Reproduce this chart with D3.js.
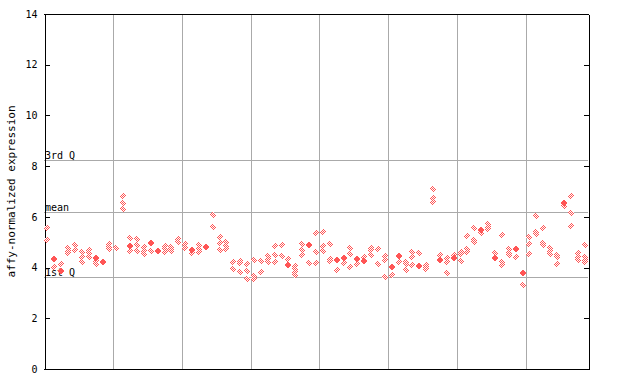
<!DOCTYPE html>
<html>
<head>
<meta charset="utf-8">
<script src="https://cdn.jsdelivr.net/npm/d3@7"></script>
<style>
body { margin: 0; background: #fff; }
text { font-family: "DejaVu Sans Mono", monospace; font-size: 10px; fill: #000; }
</style>
</head>
<body>
<div id="chart"></div>
<script>
// replicate values per sample (hollow markers)
var hollowValues = [
  [5.55, 5.07], [4.01], [4.14], [4.76, 4.65, 4.56], [4.88, 4.68],
  [4.6, 4.42, 4.23], [4.68, 4.56, 4.4], [4.25, 4.14], [], [4.92, 4.8, 4.72],
  [4.76], [6.82, 6.55, 6.3], [5.15, 4.64], [5.11, 4.88, 4.64], [4.8, 4.64, 4.52],
  [4.64], [], [4.84, 4.72, 4.6], [4.8, 4.72, 4.64], [5.11, 5.0],
  [4.92, 4.76], [4.56], [4.88, 4.72, 4.6], [4.8], [6.06, 5.59],
  [5.19, 4.96, 4.68], [5.0, 4.84, 4.72], [4.23, 3.93], [4.25, 4.17, 3.81], [4.13, 3.85, 3.54],
  [4.29, 3.66, 3.54], [4.25, 3.81], [4.44, 4.33, 4.21], [4.84, 4.48, 4.21], [4.88, 4.44],
  [4.33], [4.05, 3.93, 3.81, 3.69], [4.92, 4.68, 4.48], [4.17], [5.35, 4.6, 4.17],
  [5.39, 4.84, 4.64], [4.92, 4.33, 4.25], [3.89], [4.17], [4.76, 4.52, 4.01],
  [4.13], [4.4], [4.76, 4.68, 4.48], [4.72, 4.13], [4.44, 4.29, 3.62],
  [3.69], [4.21], [4.21, 4.13, 3.89], [4.6, 4.4, 4.09], [4.56],
  [4.12, 4.02, 3.93], [7.09, 6.73, 6.57], [4.48], [4.39, 4.23, 3.77], [4.48],
  [4.63, 4.53, 4.25], [5.23, 4.72, 4.63], [5.55, 5.09, 5.0], [5.35], [5.72, 5.61, 5.51],
  [4.56], [5.27, 4.23, 4.11], [4.72, 4.56, 4.48], [4.4], [3.3],
  [5.19, 4.92, 4.52], [6.02, 5.39, 5.31], [5.55, 4.96, 4.88], [4.76, 4.64, 4.52], [4.48, 4.4, 4.13],
  [6.43], [6.81, 6.14, 5.63], [4.56, 4.4, 4.29], [4.88, 4.4, 4.29, 4.21]
];
// overlapping replicates drawn as a solid marker (null = none)
var solidValues = [
  null, 4.33, 3.88, null, null, null, null, 4.36, 4.21, null,
  null, null, 4.84, null, null, 4.96, 4.64, null, null, null,
  null, 4.68, null, 4.8, null, null, null, null, null, null,
  null, null, null, null, null, 4.09, null, null, 4.88, null,
  null, null, 4.29, 4.36, null, 4.33, 4.25, null, null, null,
  4.01, 4.44, null, null, 4.05, null, null, 4.31, null, 4.39,
  null, null, null, 5.48, null, 4.39, null, null, 4.74, 3.8,
  null, null, null, null, null, 6.53, null, null, null
];
var yTicks = [0, 2, 4, 6, 8, 10, 12, 14];
var refLabels = ["3rd Q", "mean", "1st Q"];
var refValues = [8.24, 6.2, 3.62];
var groupSize = 10;

var W = 640, H = 384;
var margin = {top: 14, right: 52, bottom: 15, left: 44};
var red = "#ff5555";

var svg = d3.select("#chart").append("svg")
  .attr("width", W).attr("height", H);

var defs = svg.append("defs");
var pat = defs.append("pattern")
  .attr("id", "checker").attr("patternUnits", "userSpaceOnUse")
  .attr("width", 2).attr("height", 2);
pat.append("rect").attr("width", 2).attr("height", 2).attr("fill", "#fff");
pat.append("rect").attr("x", 0).attr("y", 0).attr("width", 1).attr("height", 1).attr("fill", red);
pat.append("rect").attr("x", 1).attr("y", 1).attr("width", 1).attr("height", 1).attr("fill", red);

var x = d3.scaleBand()
  .domain(d3.range(hollowValues.length))
  .range([margin.left, W - margin.right]);
var y = d3.scaleLinear()
  .domain([0, 14])
  .range([H - margin.bottom, margin.top]);

var left = margin.left, right = W - margin.right;

// vertical group separators
var seps = d3.range(groupSize, hollowValues.length, groupSize);
svg.append("g").selectAll("line").data(seps).enter().append("line")
  .attr("x1", d => Math.round(x(d)) + 0.5).attr("x2", d => Math.round(x(d)) + 0.5)
  .attr("y1", y(14)).attr("y2", y(0))
  .attr("stroke", "#aaa").attr("stroke-width", 1);

// reference lines
svg.append("g").selectAll("line").data(refValues).enter().append("line")
  .attr("x1", left).attr("x2", right)
  .attr("y1", d => Math.round(y(d)) + 0.5).attr("y2", d => Math.round(y(d)) + 0.5)
  .attr("stroke", "#aaa").attr("stroke-width", 1);
svg.append("g").selectAll("text").data(refValues).enter().append("text")
  .attr("x", left + 1).attr("y", d => Math.round(y(d)) - 1)
  .text((d, i) => refLabels[i]);

// axes
var yAxis = d3.axisLeft(y).tickValues(yTicks).tickSizeInner(-5).tickSizeOuter(0).tickPadding(7);
svg.append("g").attr("transform", "translate(" + (left + 0.5) + ",0)").call(yAxis)
  .call(g => g.selectAll("text").style("font-size", "10px").attr("font-family", null));
var yAxisR = d3.axisRight(y).tickValues(yTicks).tickSizeInner(-5).tickSizeOuter(0).tickFormat("");
svg.append("g").attr("transform", "translate(" + (right + 0.5) + ",0)").call(yAxisR);
svg.selectAll(".domain, .tick line").attr("stroke", "#000").attr("shape-rendering", "crispEdges");

// top and bottom borders
svg.append("line").attr("x1", left).attr("x2", right + 1)
  .attr("y1", y(14) + 0.5).attr("y2", y(14) + 0.5).attr("stroke", "#000");
svg.append("line").attr("x1", left).attr("x2", right + 1)
  .attr("y1", y(0) + 0.5).attr("y2", y(0) + 0.5).attr("stroke", "#000");

// axis title
svg.append("text")
  .attr("transform", "translate(15," + ((y(0) + y(14)) / 2) + ") rotate(-90)")
  .attr("text-anchor", "middle")
  .style("font-size", "11px")
  .text("affy-normalized expression");

function diamond(cx, cy, r) {
  return "M" + cx + "," + (cy - r) + "L" + (cx + r) + "," + cy + "L" + cx + "," + (cy + r) + "L" + (cx - r) + "," + cy + "Z";
}

var pts = [];
hollowValues.forEach((vals, i) => vals.forEach(v => pts.push({i: i, v: v})));

svg.append("g").selectAll("path").data(pts).enter().append("path")
  .attr("d", d => diamond(Math.round(x(d.i) + x.bandwidth() / 2), Math.round(y(d.v)), 3.5))
  .attr("fill", "url(#checker)")
  .attr("shape-rendering", "crispEdges");

var solid = solidValues.map((v, i) => ({i: i, v: v})).filter(d => d.v !== null);
svg.append("g").selectAll("path").data(solid).enter().append("path")
  .attr("d", d => diamond(Math.round(x(d.i) + x.bandwidth() / 2), Math.round(y(d.v)), 3.5))
  .attr("fill", red)
  .attr("shape-rendering", "crispEdges");
</script>
</body>
</html>
